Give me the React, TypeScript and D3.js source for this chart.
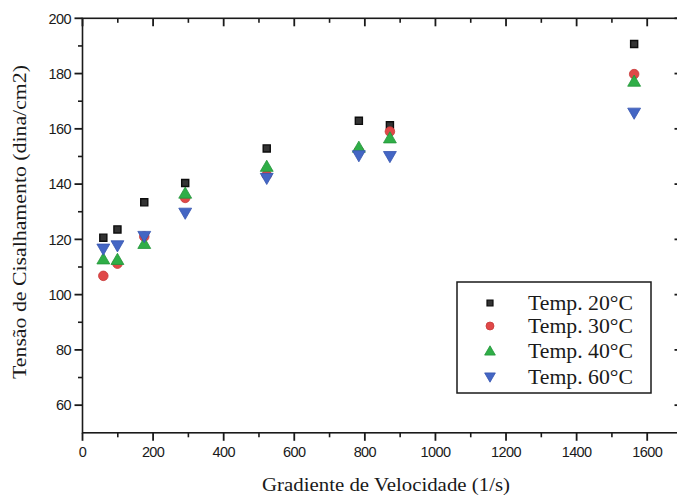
import React, { useEffect, useRef } from "react";
import * as d3 from "d3";

const gradient = [59, 99, 175, 291, 522, 783, 871, 1563];
const temp20 = [120.6, 123.6, 133.4, 140.4, 152.9, 162.9, 161.3, 190.7];
const temp30 = [106.8, 111.2, 121.0, 135.0, 143.3, 152.0, 159.0, 179.8];
const temp40 = [113.0, 112.8, 118.6, 136.8, 146.5, 153.4, 156.8, 177.3];
const temp60 = [116.4, 117.6, 121.0, 129.4, 142.0, 150.2, 149.9, 165.6];
const seriesNames = ["Temp. 20°C", "Temp. 30°C", "Temp. 40°C", "Temp. 60°C"];
const xTicks = [0, 200, 400, 600, 800, 1000, 1200, 1400, 1600];
const yTicks = [60, 80, 100, 120, 140, 160, 180, 200];
const xMinor = [100, 300, 500, 700, 900, 1100, 1300, 1500];
const yMinor = [70, 90, 110, 130, 150, 170, 190];
const xTitle = "Gradiente de Velocidade (1/s)";
const yTitle = "Tensão de Cisalhamento (dina/cm2)";

const W = 677;
const H = 498;

export default function App() {
  const ref = useRef<SVGSVGElement | null>(null);

  useEffect(() => {
    const svg = d3.select(ref.current);
    svg.selectAll("*").remove();

    const left = 82.5, right = 682.5, top = 18.3, bottom = 432.8;
    const x = d3.scaleLinear().domain([0, 1700]).range([left, right]);
    const y = d3.scaleLinear().domain([50, 200]).range([bottom, top]);

    const styles = [
      { vals: temp20, shape: "square", fill: "#333", stroke: "#0d0d0d" },
      { vals: temp30, shape: "circle", fill: "#e04848", stroke: "#c83a3a" },
      { vals: temp40, shape: "up", fill: "#2fae47", stroke: "#23963a" },
      { vals: temp60, shape: "down", fill: "#4466c4", stroke: "#3656b0" },
    ];

    const symbolPath = (shape: string, size: number) => {
      const t =
        shape === "square" ? d3.symbolSquare :
        shape === "circle" ? d3.symbolCircle : d3.symbolTriangle;
      return d3.symbol().type(t).size(size)();
    };

    const g = svg.append("g");

    g.append("rect")
      .attr("x", left).attr("y", top)
      .attr("width", right - left).attr("height", bottom - top)
      .attr("fill", "none").attr("stroke", "#1a1a1a").attr("stroke-width", 1.6);

    const tickColor = "#1a1a1a";
    const line = (x1: number, y1: number, x2: number, y2: number, w: number) =>
      g.append("line").attr("x1", x1).attr("y1", y1).attr("x2", x2).attr("y2", y2)
        .attr("stroke", tickColor).attr("stroke-width", w);

    xTicks.forEach((v) => {
      line(x(v), bottom, x(v), bottom + 8, 1.8);
      line(x(v), top, x(v), top + 8, 1.8);
    });
    xMinor.forEach((v) => {
      line(x(v), bottom, x(v), bottom + 4.5, 1.6);
      line(x(v), top, x(v), top + 4.5, 1.6);
    });
    yTicks.forEach((v) => {
      line(left - 8, y(v), left, y(v), 1.8);
      line(right - 8, y(v), right, y(v), 1.8);
    });
    yMinor.forEach((v) => {
      line(left - 4.5, y(v), left, y(v), 1.6);
      line(right - 4.5, y(v), right, y(v), 1.6);
    });

    xTicks.forEach((v) => {
      g.append("text").attr("x", x(v)).attr("y", 457)
        .attr("text-anchor", "middle")
        .attr("font-family", "Liberation Sans, Arial, sans-serif").attr("font-size", 14.5)
        .attr("letter-spacing", -0.6)
        .attr("fill", "#1a1a1a").text(String(v));
    });
    yTicks.forEach((v) => {
      g.append("text").attr("x", 71).attr("y", y(v) + 5.2)
        .attr("text-anchor", "end")
        .attr("font-family", "Liberation Sans, Arial, sans-serif").attr("font-size", 14.5)
        .attr("letter-spacing", -0.6)
        .attr("fill", "#1a1a1a").text(String(v));
    });

    g.append("text").attr("x", 386).attr("y", 491)
      .attr("text-anchor", "middle")
      .attr("font-family", "Liberation Serif, Times New Roman, serif").attr("font-size", 18)
      .attr("textLength", 248).attr("lengthAdjust", "spacingAndGlyphs")
      .attr("fill", "#1a1a1a").text(xTitle);
    g.append("text")
      .attr("transform", `translate(26,222) rotate(-90)`)
      .attr("text-anchor", "middle")
      .attr("font-family", "Liberation Serif, Times New Roman, serif").attr("font-size", 18)
      .attr("textLength", 314).attr("lengthAdjust", "spacingAndGlyphs")
      .attr("fill", "#1a1a1a").text(yTitle);

    styles.forEach((s) => {
      const rot = s.shape === "down" ? 180 : 0;
      const size = s.shape === "square" ? 50 : 72;
      g.append("g").selectAll("path").data(s.vals).enter().append("path")
        .attr("d", symbolPath(s.shape, size))
        .attr("transform", (d, i) => `translate(${x(gradient[i])},${y(d) + (s.shape === "up" ? 1.5 : s.shape === "down" ? -1.5 : 0)}) rotate(${rot})`)
        .attr("fill", s.fill).attr("stroke", s.stroke).attr("stroke-width", s.shape === "square" ? 1.4 : 0.8);
    });

    const lx = 457, ly = 282, lw = 194, lh = 111;
    g.append("rect").attr("x", lx).attr("y", ly).attr("width", lw).attr("height", lh)
      .attr("fill", "#fff").attr("stroke", "#1a1a1a").attr("stroke-width", 1.5);
    const rows = [303, 326, 351, 377];
    styles.forEach((s, i) => {
      const rot = s.shape === "down" ? 180 : 0;
      const size = s.shape === "square" ? 36 : 50;
      g.append("path").attr("d", symbolPath(s.shape, size))
        .attr("transform", `translate(490,${rows[i] + (s.shape === "up" ? 1 : s.shape === "down" ? -1 : 0)}) rotate(${rot})`)
        .attr("fill", s.fill).attr("stroke", s.stroke).attr("stroke-width", s.shape === "square" ? 1.2 : 0.8);
      g.append("text").attr("x", 528).attr("y", rows[i] + 7)
        .attr("font-family", "Liberation Serif, Times New Roman, serif").attr("font-size", 20)
        .attr("textLength", 105).attr("lengthAdjust", "spacingAndGlyphs")
        .attr("fill", "#1a1a1a").text(seriesNames[i]);
    });
  }, []);

  return (
    <svg ref={ref} width={W} height={H}
      style={{ position: "absolute", left: 0, top: 0, background: "#fff" }} />
  );
}
